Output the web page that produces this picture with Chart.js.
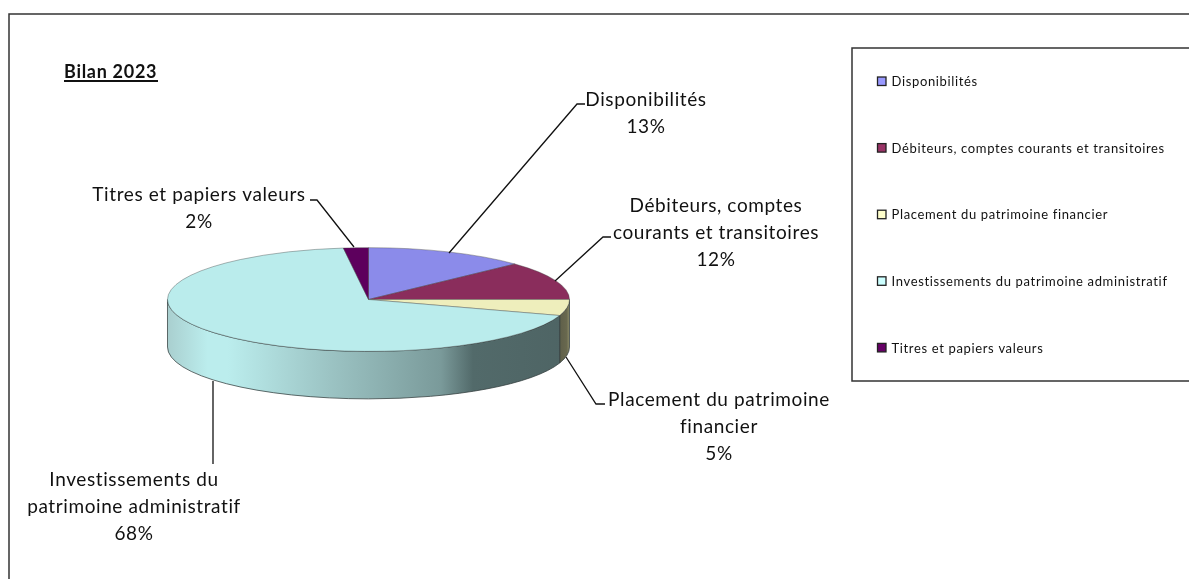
<!DOCTYPE html>
<html>
<head>
<meta charset="utf-8">
<style>
    html, body { margin: 0; padding: 0; background: #fff; overflow: hidden; }
    #wrap { width: 1189px; height: 579px; position: relative; }
</style>
<script src="https://cdn.jsdelivr.net/npm/chart.js@4"></script>
</head>
<body>
<div id="wrap"><canvas id="bilanChart" width="1189" height="579"></canvas></div>
<script>
const categories = ['Disponibilités', 'Débiteurs, comptes courants et transitoires', 'Placement du patrimoine financier', 'Investissements du patrimoine administratif', 'Titres et papiers valeurs'];
const values = [13, 12, 5, 68, 2];

const topColors = ['#8b8bea', '#8a2d5c', '#eeeebc', '#baecec', '#5d005d'];
const legendColors = ['#9999ff', '#993366', '#ffffcc', '#ccffff', '#660066'];

// label lines and leader lines
const dataLabels = [
    { lines: ['Disponibilités', '13%'], x: 646, y: 100, leader: [[449, 253], [577, 104], [585, 104]] },
    { lines: ['Débiteurs, comptes', 'courants et transitoires', '12%'], x: 716, y: 206, leader: [[555, 281], [603, 237], [611, 237]] },
    { lines: ['Placement du patrimoine', 'financier', '5%'], x: 719, y: 400, leader: [[566, 357], [596, 404], [605, 404]] },
    { lines: ['Investissements du', 'patrimoine administratif', '68%'], x: 134, y: 480, leader: [[213, 381], [213, 464]] },
    { lines: ['Titres et papiers valeurs', '2%'], x: 199, y: 195, leader: [[354, 247], [317, 200], [310, 200]] }
];

const SQUASH = 52 / 201.5;
const DEPTH = 47.5;

// Excel style 3d pie, squashes the library's arcs and adds the wall under them
const pie3d = {
    id: 'pie3d',
    beforeDraw(chart) {
        const ctx = chart.ctx;
        ctx.save();
        ctx.fillStyle = '#fff';
        ctx.fillRect(0, 0, chart.width, chart.height);
        ctx.strokeStyle = '#333';
        ctx.lineWidth = 1.5;
        ctx.beginPath();
        ctx.moveTo(1189, 14);
        ctx.lineTo(9, 14);
        ctx.lineTo(9, 579);
        ctx.stroke();
        ctx.restore();
    },
    beforeDatasetsDraw(chart) {
        const ctx = chart.ctx;
        const arcs = chart.getDatasetMeta(0).data;
        const cx = arcs[0].x, cy = arcs[0].y, rx = arcs[0].outerRadius, ry = rx * SQUASH;

        const wall = ctx.createLinearGradient(cx - rx, 0, cx + rx, 0);
        wall.addColorStop(0, '#a9cfcf');
        wall.addColorStop(0.1, '#bbeded');
        wall.addColorStop(0.15, '#bbeded');
        wall.addColorStop(0.4, '#9cc4c4');
        wall.addColorStop(0.68, '#7a9a9a');
        wall.addColorStop(0.76, '#526a6a');
        wall.addColorStop(1, '#4e6464');
        const wallOlive = ctx.createLinearGradient(cx + rx - 12, 0, cx + rx, 0);
        wallOlive.addColorStop(0, '#5c5c48');
        wallOlive.addColorStop(0.75, '#68684e');
        wallOlive.addColorStop(1, '#8a8a68');

        ctx.save();
        arcs.forEach((arc, i) => {
            // only the front half of the rim is visible
            const a0 = Math.max(arc.startAngle, 0);
            const a1 = Math.min(arc.endAngle, Math.PI);
            if (a1 <= a0) return;
            ctx.beginPath();
            ctx.ellipse(cx, cy, rx, ry, 0, a0, a1, false);
            ctx.ellipse(cx, cy + DEPTH, rx, ry, 0, a1, a0, true);
            ctx.closePath();
            ctx.fillStyle = i === 3 ? wall : wallOlive;
            ctx.fill();
            ctx.strokeStyle = 'rgba(50,60,60,0.75)';
            ctx.lineWidth = 1;
            ctx.stroke();
        });
        ctx.restore();

        ctx.save();
        ctx.translate(cx, cy);
        ctx.scale(1, SQUASH);
        ctx.translate(-cx, -cy);
    },
    afterDatasetsDraw(chart) {
        chart.ctx.restore();
    },
    afterDraw(chart) {
        const ctx = chart.ctx;
        ctx.save();

        // title
        ctx.fillStyle = '#111';
        ctx.font = 'bold 18px Lato';
        ctx.letterSpacing = '0.7px';
        ctx.textAlign = 'left';
        ctx.textBaseline = 'middle';
        ctx.fillText('Bilan 2023', 64, 72);
        ctx.fillRect(64, 80, 94, 2);

        // leader lines and data labels
        ctx.strokeStyle = '#111';
        ctx.lineWidth = 1.3;
        ctx.font = '19px Lato';
        ctx.letterSpacing = '0.6px';
        ctx.textAlign = 'center';
        dataLabels.forEach(lab => {
            ctx.beginPath();
            lab.leader.forEach((p, j) => j ? ctx.lineTo(p[0], p[1]) : ctx.moveTo(p[0], p[1]));
            ctx.stroke();
            lab.lines.forEach((t, j) => ctx.fillText(t, lab.x, lab.y + j * 26.8));
        });

        // legend box
        ctx.strokeStyle = '#333';
        ctx.lineWidth = 1.5;
        ctx.beginPath();
        ctx.moveTo(1189, 48);
        ctx.lineTo(852, 48);
        ctx.lineTo(852, 381);
        ctx.lineTo(1189, 381);
        ctx.stroke();

        ctx.font = '13px Lato';
        ctx.letterSpacing = '0.65px';
        ctx.textAlign = 'left';
        categories.forEach((name, i) => {
            const y = 82 + i * 66.6;
            ctx.fillStyle = legendColors[i];
            ctx.fillRect(877.5, y - 5, 8.5, 8.5);
            ctx.strokeStyle = '#222';
            ctx.lineWidth = 1.3;
            ctx.strokeRect(877.5, y - 5, 8.5, 8.5);
            ctx.fillStyle = '#111';
            ctx.fillText(name, 891.5, y);
        });
        ctx.restore();
    }
};

new Chart(document.getElementById('bilanChart'), {
    type: 'pie',
    data: {
        labels: categories,
        datasets: [{
            data: values,
            backgroundColor: topColors,
            borderColor: 'rgba(60,60,60,0.6)',
            borderWidth: 1
        }]
    },
    options: {
        responsive: false,
        animation: false,
        layout: { padding: { left: 167, right: 619, top: 98, bottom: 78 } },
        plugins: {
            legend: { display: false },
            tooltip: { enabled: false }
        }
    },
    plugins: [pie3d]
});
</script>
</body>
</html>
